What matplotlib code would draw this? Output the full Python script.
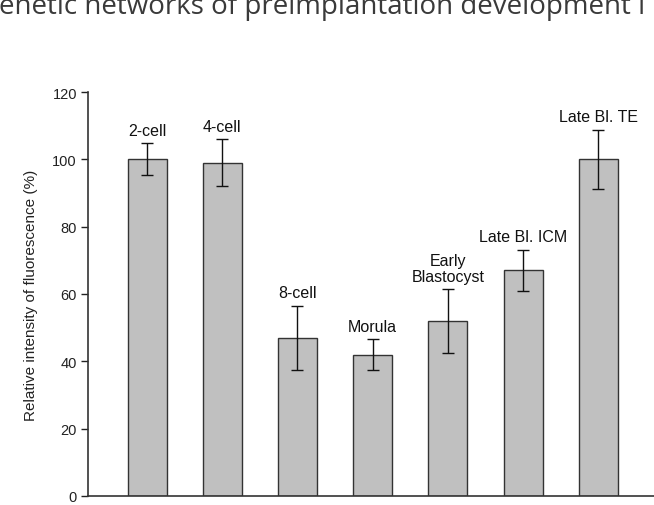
import numpy as np
import matplotlib
matplotlib.use("Agg")
import matplotlib.pyplot as plt

# bar chart data
stages = ["2-cell", "4-cell", "8-cell", "Morula", "Early\nBlastocyst", "Late Bl. ICM", "Late Bl. TE"]
intensity = [100, 99, 47, 42, 52, 67, 100]
err = [4.8, 7, 9.5, 4.6, 9.4, 6.1, 8.7]
y_ticks = [0, 20, 40, 60, 80, 100, 120]
header = "enetic networks of preimplantation development i"

plt.rcParams['font.family'] = ['Liberation Sans', 'DejaVu Sans']

fig = plt.figure(figsize=(6.54, 5.06), dpi=100)
ax = fig.add_axes([0.1346, 0.0178, 0.8654, 0.7984])

x = np.arange(len(stages))
ax.bar(x, intensity, width=0.52, color='#c0c0c0', edgecolor='#333333', linewidth=1.0, zorder=2)
ax.errorbar(x, intensity, yerr=err, fmt='none', ecolor='#111111', elinewidth=1.0,
            capsize=4.5, capthick=1.0, zorder=3)

for xi, v, e, name in zip(x, intensity, err, stages):
    ax.annotate(name, (xi, v + e), xytext=(0, 4), textcoords='offset points',
                ha='center', va='bottom', fontsize=11.5, color='#111111', linespacing=1.05)

ax.set_xlim(-0.785, 6.74)
ax.set_ylim(0, 120)
ax.set_yticks(y_ticks)
ax.set_xticks([])
ax.tick_params(axis='y', direction='out', length=5, width=1, labelsize=10.5, colors='#222222', pad=3)
ax.set_ylabel("Relative intensity of fluorescence (%)", fontsize=11, color='#222222', labelpad=10)
for s in ['top', 'right']:
    ax.spines[s].set_visible(False)
for s in ['left', 'bottom']:
    ax.spines[s].set_color('#333333')
    ax.spines[s].set_linewidth(1.2)

# clipped running header from the page
fig.text(0.493, 0.972, header, ha='center', va='baseline', fontsize=20,
         family=['Open Sans', 'DejaVu Sans'], color='#3a3a3a')

fig.savefig("out.png", dpi=100)
